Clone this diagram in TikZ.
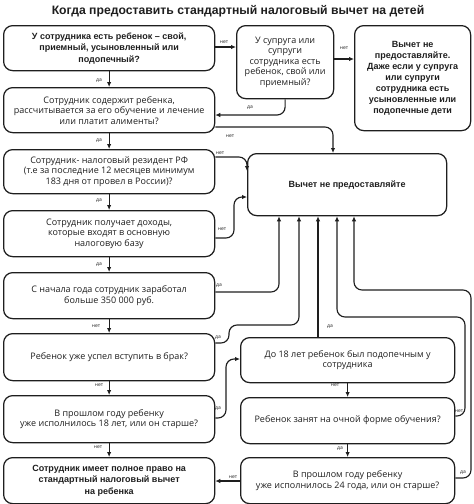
\documentclass[tikz,border=0pt]{standalone}
\usepackage{fontspec}
\setmainfont{Open Sans}
\newfontfamily\boldf{Liberation Sans}
\usetikzlibrary{arrows.meta}
\definecolor{ink}{HTML}{1E1E1E}
\begin{document}
\begin{tikzpicture}[x=1pt,y=-1pt,
 box/.style={draw=ink, line width=1.25pt, rounded corners=9pt, anchor=north west, align=center, inner sep=1pt, text=ink, font=\fontsize{9}{10.5}\selectfont},
 bbox/.style={box, font=\boldf\bfseries\fontsize{9}{11.5}\selectfont},
 arr/.style={draw=ink, line width=1.15pt, rounded corners=8pt, -{Latex[length=5pt,width=4.5pt]}},
 lab/.style={font=\fontsize{5}{6}\selectfont, inner sep=0pt, text=ink},
]
\useasboundingbox (0,0) rectangle (474,504);
\node[font=\boldf\bfseries\fontsize{12.2}{14}\selectfont, text=ink] (title) at (238,11) {Когда предоставить стандартный налоговый вычет на детей};

\node[bbox, minimum width=211pt, minimum height=45pt] (b1) at (3,25) {У сотрудника есть ребенок – свой,\\приемный, усыновленный или\\подопечный?};
\node[box, minimum width=97pt, minimum height=73pt] (b2) at (236,25) {У супруга или\\супруги\\сотрудника есть\\ребенок, свой или\\приемный?};
\node[bbox, minimum width=116pt, minimum height=105pt, font=\boldf\bfseries\fontsize{9}{11}\selectfont] (b3) at (354,25) {Вычет не\\предоставляйте.\\Даже если у супруга\\или супруги\\сотрудника есть\\усыновленные или\\подопечные дети};
\node[box, minimum width=211pt, minimum height=45pt] (b4) at (3,87) {Сотрудник содержит ребенка,\\рассчитывается за его обучение и лечение\\или платит алименты?};
\node[box, minimum width=211pt, minimum height=44pt] (b5) at (3,149) {Сотрудник- налоговый резидент РФ\\(т.е за последние 12 месяцев минимум\\183 дня от провел в России)?};
\node[bbox, minimum width=199pt, minimum height=62pt] (b6) at (247,153) {Вычет не предоставляйте};
\node[box, minimum width=211pt, minimum height=46pt] (b7) at (3,210) {Сотрудник получает доходы,\\которые входят в основную\\налоговую базу};
\node[box, minimum width=211pt, minimum height=46pt] (b8) at (3,272) {С начала года сотрудник заработал\\больше 350 000 руб.};
\node[box, minimum width=211pt, minimum height=47pt] (b9) at (3,333) {Ребенок уже успел вступить в брак?};
\node[box, minimum width=211pt, minimum height=47pt] (b10) at (3,395) {В прошлом году ребенку\\уже исполнилось 18 лет, или он старше?};
\node[bbox, minimum width=211pt, minimum height=46pt] (b11) at (3,457) {Сотрудник имеет полное право на\\стандартный налоговый вычет\\на ребенка};
\node[box, minimum width=214pt, minimum height=45pt] (b12) at (240,337) {До 18 лет ребенок был подопечным у\\сотрудника};
\node[box, minimum width=214pt, minimum height=46pt] (b13) at (240,397) {Ребенок занят на очной форме обучения?};
\node[box, minimum width=214pt, minimum height=46pt] (b14) at (240,457) {В прошлом году ребенку\\уже исполнилось 24 года, или он старше?};

% connectors
\draw[arr] (b1.east |- 0,47) -- (b2.west |- 0,47);
\draw[arr] (b2.east |- 0,59) -- (b3.west |- 0,59);
\draw[arr] (b1.south) -- (b4.north);
\draw[arr] (b2.south) |- (b4.east |- 0,115);
\draw[arr] (b4.east |- 0,127) -| (b6.north -| 333,0);
\draw[arr] (b4.south) -- (b5.north);
\draw[arr] (b5.east |- 0,157) -| (b6.west |- 0,171);
\draw[arr] (b5.south) -- (b7.north);
\draw[arr] (b7.east |- 0,238) -- (234,238) |- (b6.west |- 0,197);
\draw[arr] (b7.south) -- (b8.north);
\draw[arr] (b8.east |- 0,292) -| (b6.south -| 279,0);
\draw[arr] (b8.south) -- (b9.north);
\draw[arr] (b9.east |- 0,343) -- (229,343) |- (299,325) -- (b6.south -| 299,0);
\draw[arr] (b12.north -| 318,0) -- (b6.south -| 318,0);
\draw[arr] (b13.east |- 0,416) -- (465,416) -- (465,317) -- (337,317) -- (b6.south -| 337,0);
\draw[arr] (b14.east |- 0,478) -- (471,478) -- (471,290) -- (354,290) -- (b6.south -| 354,0);
\draw[arr] (b9.south) -- (b10.north);
\draw[arr] (b10.east |- 0,418) -- (226,418) |- (b12.west |- 0,359);
\draw[arr] (b10.south) -- (b11.north);
\draw[arr] (b12.south) -- (b13.north);
\draw[arr] (b13.south) -- (b14.north);
\draw[arr] (b14.west |- 0,481) -- (b11.east |- 0,481);

% labels
\node[lab] (l1) at (224,42) {нет};
\node[lab] (l2) at (344,48) {нет};
\node[lab] (l3) at (99,81) {да};
\node[lab] (l4) at (250,108) {да};
\node[lab] (l5) at (230,136) {нет};
\node[lab] (l6) at (99,141) {да};
\node[lab] (l7) at (220,153) {нет};
\node[lab] (l8) at (99,201) {да};
\node[lab] (l9) at (222,229) {нет};
\node[lab] (l10) at (99,265) {да};
\node[lab] (l11) at (219,286) {да};
\node[lab] (l12) at (96,326) {нет};
\node[lab] (l13) at (218,338) {да};
\node[lab] (l14) at (330,327) {да};
\node[lab] (l15) at (99,385) {нет};
\node[lab] (l16) at (218,409) {да};
\node[lab] (l17) at (98,447) {нет};
\node[lab] (l18) at (335,385) {нет};
\node[lab] (l19) at (340,449) {да};
\node[lab] (l20) at (459,411) {нет};
\node[lab] (l21) at (463,473) {да};
\node[lab] (l22) at (233,477) {нет};
\end{tikzpicture}
\end{document}
